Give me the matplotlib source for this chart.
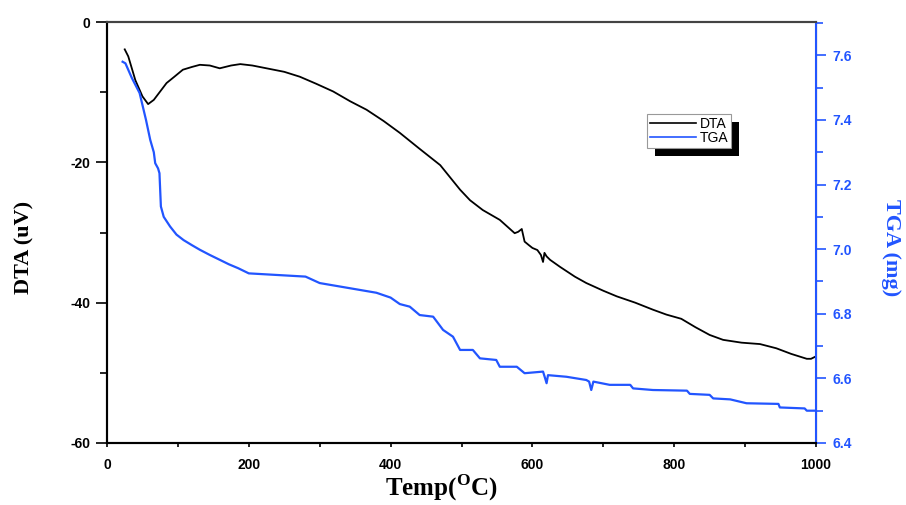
import matplotlib
matplotlib.use("Agg")
import matplotlib.pyplot as plt
from matplotlib.ticker import MultipleLocator, FormatStrFormatter
from matplotlib.patches import Rectangle
from matplotlib.lines import Line2D

plt.rcParams['axes.unicode_minus'] = False
plt.rcParams['mathtext.fontset'] = 'custom'
plt.rcParams['mathtext.rm'] = 'Liberation Serif:bold'
plt.rcParams['mathtext.bf'] = 'Liberation Serif:bold'

# DTA curve (uV)
temp_dta = [25, 30, 40, 50, 58, 66, 75, 84, 95, 107, 120, 131, 145, 159, 175, 188,
            205, 225, 250, 272, 295, 319, 343, 366, 390, 413, 440, 470, 498, 512,
            530, 554, 575, 580, 585, 589, 595, 600, 607, 612, 615, 617, 620, 625,
            639, 660, 676, 700, 719, 745, 770, 789, 810, 830, 850, 869, 895, 921,
            944, 965, 987, 993, 999]
dta = [-3.9, -4.9, -8.3, -10.6, -11.7, -11.1, -9.9, -8.7, -7.8, -6.8, -6.4, -6.1,
       -6.2, -6.6, -6.2, -6.0, -6.2, -6.6, -7.1, -7.8, -8.8, -9.9, -11.3, -12.5,
       -14.1, -15.8, -18.0, -20.4, -23.9, -25.4, -26.8, -28.2, -30.1, -29.9, -29.5,
       -31.3, -31.8, -32.2, -32.5, -33.2, -34.2, -32.9, -33.4, -33.9, -34.9, -36.3,
       -37.2, -38.3, -39.1, -40.0, -41.0, -41.7, -42.3, -43.5, -44.6, -45.3, -45.7,
       -45.9, -46.5, -47.3, -48.0, -48.0, -47.7]

# TGA curve (mg)
temp_tga = [22, 26, 35, 46, 55, 61, 66, 68, 72, 74, 76, 80, 89, 98, 108, 120, 131,
            145, 159, 172, 185, 200, 240, 280, 300, 340, 380, 400, 413, 427, 441,
            460, 474, 488, 498, 516, 526, 549, 554, 578, 589, 615, 618, 620, 622,
            648, 676, 680, 683, 686, 709, 738, 742, 770, 818, 822, 850, 855, 879,
            902, 947, 949, 984, 987, 999]
tga = [7.580, 7.575, 7.530, 7.483, 7.400, 7.338, 7.300, 7.266, 7.250, 7.235, 7.132,
       7.100, 7.070, 7.045, 7.028, 7.012, 6.998, 6.982, 6.967, 6.953, 6.941, 6.925,
       6.920, 6.915, 6.895, 6.880, 6.865, 6.850, 6.830, 6.822, 6.796, 6.791, 6.750,
       6.729, 6.688, 6.688, 6.662, 6.657, 6.636, 6.636, 6.616, 6.621, 6.600, 6.585,
       6.610, 6.605, 6.595, 6.590, 6.564, 6.590, 6.580, 6.580, 6.569, 6.564, 6.562,
       6.552, 6.549, 6.538, 6.535, 6.523, 6.521, 6.510, 6.507, 6.500, 6.500]

blue = '#2255ff'
tick_font = {'family': 'Liberation Sans', 'weight': 'bold', 'size': 10}

fig = plt.figure(figsize=(9.06, 5.05), dpi=100)
ax = fig.add_axes([107/906, 1-443/505, (816-107)/906, (443-22)/505])
ax2 = ax.twinx()

ax.plot(temp_dta, dta, color='black', lw=1.3)
ax2.plot(temp_tga, tga, color=blue, lw=1.6)

ax.set_xlim(0, 1000)
ax.set_ylim(-60, 0)
ax2.set_ylim(6.4, 7.703)

ax.xaxis.set_major_locator(MultipleLocator(200))
ax.xaxis.set_minor_locator(MultipleLocator(100))
ax.yaxis.set_major_locator(MultipleLocator(20))
ax.yaxis.set_minor_locator(MultipleLocator(10))
ax2.yaxis.set_major_locator(MultipleLocator(0.2))
ax2.yaxis.set_minor_locator(MultipleLocator(0.1))
ax2.yaxis.set_major_formatter(FormatStrFormatter('%.1f'))

ax.tick_params(axis='y', which='major', direction='out', length=8, width=1.2, pad=4)
ax.tick_params(axis='y', which='minor', direction='out', length=5, width=1.2)
ax.tick_params(axis='x', which='both', direction='out', length=3, width=1.2, pad=8)
ax2.tick_params(axis='y', which='major', direction='out', length=7, width=1.2,
                colors=blue, pad=5)
ax2.tick_params(axis='y', which='minor', direction='out', length=5, width=1.2,
                colors=blue)

for lab in ax.get_xticklabels() + ax.get_yticklabels():
    lab.set_fontproperties(tick_font)
for lab in ax2.get_yticklabels():
    lab.set_fontproperties(tick_font)
    lab.set_color(blue)

for a in (ax, ax2):
    a.spines['left'].set_linewidth(1.5)
    a.spines['bottom'].set_linewidth(1.5)
    a.spines['top'].set_color('#444444')
    a.spines['top'].set_linewidth(1.5)
ax2.spines['right'].set_color(blue)
ax2.spines['right'].set_linewidth(1.5)

fig.text(24/906, 1-247/505, 'DTA (uV)', rotation=90, ha='center', va='center',
         family='Liberation Serif', weight='bold', fontsize=16)
fig.text(891/906, 1-248/505, 'TGA (mg)', rotation=270, ha='center', va='center',
         family='Liberation Serif', weight='bold', fontsize=16, color=blue)
fig.text(441/906, 1-488/505, r'Temp($^{\mathrm{O}}$C)', ha='center', va='center',
         family='Liberation Serif', weight='bold', fontsize=18)

handles = [Line2D([], [], color='black', lw=1.2), Line2D([], [], color=blue, lw=1.2)]
leg = fig.legend(handles, ['DTA', 'TGA'], loc='upper left',
                 bbox_to_anchor=(647/906, 1-114/505), fancybox=False,
                 framealpha=1, edgecolor='#999999',
                 prop={'family': 'Liberation Sans', 'size': 10},
                 handlelength=3.3, handletextpad=0.3, labelspacing=0.0,
                 borderpad=0.2, borderaxespad=0)
leg.get_frame().set_linewidth(0.8)
leg.set_zorder(5)

fig.canvas.draw()
bb = leg.get_window_extent()
W, H = fig.bbox.width, fig.bbox.height
shadow = Rectangle(((bb.x0 + 8)/W, (bb.y0 - 8)/H), bb.width/W, bb.height/H,
                   transform=fig.transFigure, facecolor='black', edgecolor='none',
                   zorder=4.9)
fig.add_artist(shadow)

fig.savefig('out.png', dpi=100)
